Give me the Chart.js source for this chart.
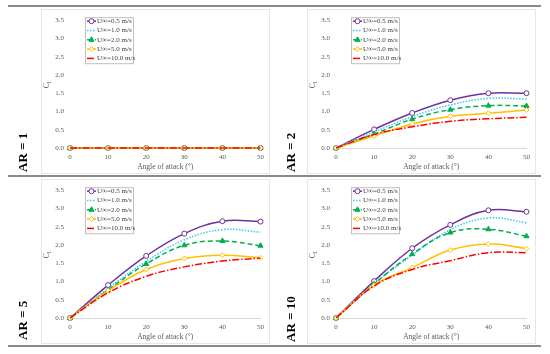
<!DOCTYPE html>
<html>
<head>
<meta charset="utf-8">
<script src="https://cdn.jsdelivr.net/npm/chart.js@4.4.0/dist/chart.umd.min.js"></script>
<style>
  body { margin: 0; background: #fff; width: 550px; height: 354px; position: relative; overflow: hidden; }
  .sep { position: absolute; left: 8px; width: 533px; height: 2px; background: #8a8a8a; }
  .frame { position: absolute; outline: 1px solid #e6e6e6; }
  .ar { position: absolute; transform-origin: 0 0; transform: rotate(-90deg); font: bold 13px "Liberation Serif", serif; white-space: nowrap; line-height: 14px; color: #000; }
</style>
</head>
<body>
<div class="sep" style="top:5px"></div>
<div class="sep" style="top:175px"></div>
<div class="sep" style="top:345px"></div>

<canvas id="c1" class="frame" width="227" height="163" style="left:42px;top:10px"></canvas>
<canvas id="c2" class="frame" width="227" height="163" style="left:308px;top:10px"></canvas>
<canvas id="c3" class="frame" width="227" height="163" style="left:42px;top:180px"></canvas>
<canvas id="c4" class="frame" width="227" height="163" style="left:308px;top:180px"></canvas>

<div class="ar" style="left:16px;top:172px">AR = 1</div>
<div class="ar" style="left:284px;top:172px">AR = 2</div>
<div class="ar" style="left:16px;top:340px">AR = 5</div>
<div class="ar" style="left:284px;top:342px">AR = 10</div>

<script>
// angoli di attacco (asse x)
const angles = [0, 10, 20, 30, 40, 50];
const speedLabels = ["U\u221e=0.5 m/s", "U\u221e=1.0 m/s", "U\u221e=2.0 m/s", "U\u221e=5.0 m/s", "U\u221e=10.0 m/s"];
const yTicks = [0, 0.5, 1, 1.5, 2, 2.5, 3, 3.5];

// AR = 1
const ar1_u05 = [0, 0, 0, 0, 0, 0];
const ar1_u1 = [0, 0, 0, 0, 0, 0];
const ar1_u2 = [0, 0, 0, 0, 0, 0];
const ar1_u5 = [0, 0, 0, 0, 0, 0];
const ar1_u10 = [0, 0, 0, 0, 0, 0];

// AR = 2
const ar2_u05 = [0, 0.51, 0.96, 1.31, 1.50, 1.50];
const ar2_u1 = [0, 0.44, 0.86, 1.18, 1.36, 1.34];
const ar2_u2 = [0, 0.38, 0.79, 1.05, 1.16, 1.15];
const ar2_u5 = [0, 0.33, 0.66, 0.87, 0.95, 1.04];
const ar2_u10 = [0, 0.37, 0.58, 0.73, 0.80, 0.84];

// AR = 5
const ar5_u05 = [0, 0.90, 1.70, 2.31, 2.65, 2.64];
const ar5_u1 = [0, 0.81, 1.55, 2.14, 2.42, 2.35];
const ar5_u2 = [0, 0.77, 1.48, 1.99, 2.11, 1.98];
const ar5_u5 = [0, 0.75, 1.33, 1.63, 1.72, 1.65];
const ar5_u10 = [0, 0.69, 1.14, 1.40, 1.56, 1.64];

// AR = 10
const ar10_u05 = [0, 1.01, 1.91, 2.55, 2.95, 2.91];
const ar10_u1 = [0, 0.94, 1.72, 2.42, 2.74, 2.61];
const ar10_u2 = [0, 0.93, 1.75, 2.34, 2.43, 2.24];
const ar10_u5 = [0, 0.90, 1.38, 1.86, 2.03, 1.90];
const ar10_u10 = [0, 0.88, 1.33, 1.57, 1.79, 1.79];

// stili delle serie
const colori = ["#7030A0", "#3CC8F0", "#00B050", "#FFC000", "#FF0000"];
const tratteggi = [[], [1.5, 1.5], [5, 3], [], [7, 2, 1.5, 2]];
const marker = ["circle", "circle", "triangle", "rectRot", "circle"];
const raggi = [2.5, 0, 3, 2.5, 0];
const riempimenti = ["#ffffff", "#3CC8F0", "#00B050", "#ffffff", "#FF0000"];

const serif = "'Liberation Serif', 'Times New Roman', serif";

// titolo asse y (C con pedice l) e legenda con bordo
const extras = {
  id: "extras",
  afterDatasetsDraw(chart) {
    const ctx = chart.ctx;
    const ca = chart.chartArea;

    ctx.save();
    ctx.translate(ca.left - 23, (ca.top + ca.bottom) / 2);
    ctx.rotate(-Math.PI / 2);
    ctx.fillStyle = "#595959";
    ctx.textBaseline = "middle";
    ctx.textAlign = "left";
    ctx.font = "8px " + serif;
    const w = ctx.measureText("C").width;
    ctx.fillText("C", -w / 2 - 1.5, 0);
    ctx.font = "5.5px " + serif;
    ctx.fillText("l", w / 2 - 1.5, 2.5);
    ctx.restore();

    const bx = ca.left + 15;
    const by = ca.top - 3;
    ctx.save();
    ctx.fillStyle = "#ffffff";
    ctx.fillRect(bx, by, 48, 46);
    ctx.strokeStyle = "#bfbfbf";
    ctx.lineWidth = 1;
    ctx.strokeRect(bx + 0.5, by + 0.5, 48, 46);
    chart.data.datasets.forEach((ds, i) => {
      const y = by + 4 + i * 9.3;
      ctx.setLineDash(ds.borderDash || []);
      ctx.strokeStyle = ds.borderColor;
      ctx.lineWidth = ds.borderWidth;
      ctx.beginPath();
      ctx.moveTo(bx + 2, y);
      ctx.lineTo(bx + 11, y);
      ctx.stroke();
      ctx.setLineDash([]);
      if (ds.pointRadius > 0) {
        ctx.fillStyle = ds.pointBackgroundColor;
        ctx.strokeStyle = ds.borderColor;
        ctx.lineWidth = 1;
        Chart.helpers.drawPoint(ctx, { pointStyle: ds.pointStyle, radius: ds.pointRadius, rotation: 0, borderWidth: 1 }, bx + 6.5, y);
      }
      ctx.fillStyle = "#404040";
      ctx.font = "7px " + serif;
      ctx.textBaseline = "middle";
      ctx.textAlign = "left";
      ctx.fillText(ds.label, bx + 12, y);
    });
    ctx.restore();
  },
};

function disegna(id, serie) {
  const datasets = serie.map((valori, i) => ({
    label: speedLabels[i],
    data: angles.map((a, j) => ({ x: a, y: valori[j] })),
    borderColor: colori[i],
    borderWidth: 1.5,
    borderDash: tratteggi[i],
    pointStyle: marker[i],
    pointRadius: raggi[i],
    pointBackgroundColor: riempimenti[i],
    pointBorderColor: colori[i],
    pointBorderWidth: 1,
    tension: 0.4,
    fill: false,
    clip: 5,
    order: 5 - i,
  }));

  const tickFont = { family: serif, size: 7 };

  new Chart(document.getElementById(id), {
    type: "line",
    data: { datasets: datasets },
    options: {
      responsive: false,
      animation: false,
      devicePixelRatio: 1,
      events: [],
      layout: { padding: { left: 0, top: 4, right: 7, bottom: 0 } },
      plugins: { legend: { display: false }, tooltip: { enabled: false } },
      scales: {
        x: {
          type: "linear",
          min: 0,
          max: 50,
          grid: { display: false, drawTicks: false },
          border: { display: true, color: "#d9d9d9" },
          ticks: { stepSize: 10, padding: 5, color: "#595959", font: tickFont },
          title: { display: true, text: "Angle of attack (\u00b0)", color: "#595959", font: { family: serif, size: 7.5 }, padding: { top: 0, bottom: 1 } },
          afterFit: (s) => { s.height = 25; },
        },
        y: {
          min: 0,
          max: 3.5,
          grid: { display: false, drawTicks: false },
          border: { display: false },
          afterBuildTicks: (s) => { s.ticks = yTicks.map((v) => ({ value: v })); },
          ticks: { padding: 6, color: "#595959", font: tickFont, callback: (v) => Number(v).toFixed(1) },
          afterFit: (s) => { s.width = 28; },
        },
      },
    },
    plugins: [extras],
  });
}

disegna("c1", [ar1_u05, ar1_u1, ar1_u2, ar1_u5, ar1_u10]);
disegna("c2", [ar2_u05, ar2_u1, ar2_u2, ar2_u5, ar2_u10]);
disegna("c3", [ar5_u05, ar5_u1, ar5_u2, ar5_u5, ar5_u10]);
disegna("c4", [ar10_u05, ar10_u1, ar10_u2, ar10_u5, ar10_u10]);
</script>
</body>
</html>
